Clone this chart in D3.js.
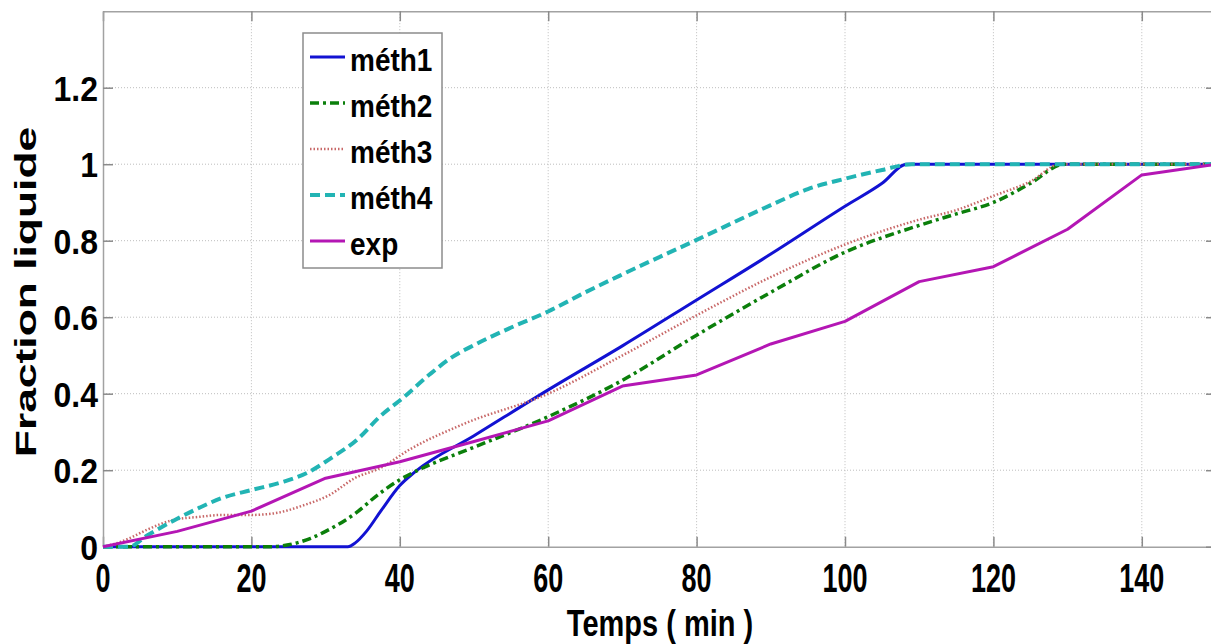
<!DOCTYPE html>
<html>
<head>
<meta charset="utf-8">
<script src="https://cdn.jsdelivr.net/npm/d3@7"></script>
<style>
  body { margin: 0; background: #fff; }
  svg { display: block; }
</style>
</head>
<body>
<svg id="chart" width="1211" height="644"></svg>
<script>
// Axis ticks and labels
const xTicks = [0, 20, 40, 60, 80, 100, 120, 140];
const xTickLabels = ["0", "20", "40", "60", "80", "100", "120", "140"];
const yTicks = [0, 0.2, 0.4, 0.6, 0.8, 1, 1.2];
const yTickLabels = ["0", "0.2", "0.4", "0.6", "0.8", "1", "1.2"];

// Series names (legend order = drawing order)
const seriesNames = ["méth1", "méth2", "méth3", "méth4", "exp"];

// méth1: liquid fraction vs time (min)
const meth1Time  = [0, 33, 34, 35.5, 37.5, 40, 42, 50, 60, 70, 80, 90, 100, 105, 108.3, 150];
const meth1Value = [0, 0, 0.01, 0.04, 0.095, 0.16, 0.195, 0.29, 0.41, 0.525, 0.645, 0.765, 0.89, 0.95, 1.0, 1.0];

// méth2
const meth2Time  = [0, 22.5, 25, 28, 30, 34, 37, 40, 43, 50, 60, 70, 80, 90, 100, 110, 115, 120, 125, 129.5, 150];
const meth2Value = [0, 0, 0.005, 0.022, 0.04, 0.087, 0.135, 0.175, 0.205, 0.26, 0.34, 0.435, 0.553, 0.665, 0.77, 0.84, 0.87, 0.9, 0.95, 1.0, 1.0];

// méth3
const meth3Time  = [0, 2, 4, 6, 9.5, 13, 16, 20, 23, 27, 30.5, 34, 37.3, 41.4, 48.5, 60, 70, 80, 90, 100, 110, 115, 120, 125, 129, 150];
const meth3Value = [0, 0.01, 0.026, 0.045, 0.07, 0.078, 0.083, 0.083, 0.087, 0.108, 0.135, 0.18, 0.205, 0.255, 0.32, 0.40, 0.50, 0.605, 0.705, 0.79, 0.855, 0.88, 0.917, 0.955, 1.0, 1.0];

// méth4
const meth4Time  = [0, 3.5, 6, 9.5, 13, 16, 20, 24, 27.4, 31, 34.2, 37.3, 40.5, 44, 47, 50, 55, 60, 65, 70, 80, 90, 95, 100, 105, 109, 150];
const meth4Value = [0, 0, 0.03, 0.068, 0.102, 0.127, 0.148, 0.168, 0.192, 0.235, 0.279, 0.34, 0.39, 0.45, 0.495, 0.527, 0.573, 0.615, 0.665, 0.712, 0.802, 0.893, 0.935, 0.962, 0.985, 1.0, 1.0];

// exp: measured points
const expTime  = [0, 10, 20, 30, 40, 50, 60, 70, 80, 90, 100, 110, 120, 130, 140, 150];
const expValue = [0, 0.04, 0.093, 0.179, 0.222, 0.275, 0.329, 0.42, 0.449, 0.53, 0.589, 0.693, 0.732, 0.83, 0.972, 1.0];

(function draw() {
  const series = [
    { name: seriesNames[0], t: meth1Time, v: meth1Value, color: "#1212d2", width: 3,   dash: null,      curve: d3.curveMonotoneX },
    { name: seriesNames[1], t: meth2Time, v: meth2Value, color: "#0b7f0b", width: 3.5, dash: "9,4,3,4", curve: d3.curveMonotoneX },
    { name: seriesNames[2], t: meth3Time, v: meth3Value, color: "#c86868", width: 2.5, dash: "1.5,2",   curve: d3.curveMonotoneX },
    { name: seriesNames[3], t: meth4Time, v: meth4Value, color: "#22b4b4", width: 4,   dash: "10,5",    curve: d3.curveMonotoneX },
    { name: seriesNames[4], t: expTime,   v: expValue,   color: "#b416b4", width: 3,   dash: null,      curve: d3.curveLinear }
  ];

  const svg = d3.select("#chart");
  const pLeft = 103, pRight = 1216, pTop = 11.2, pBottom = 546.7;

  const x = d3.scaleLinear().domain([0, 150]).range([pLeft, pRight]);
  const y = d3.scaleLinear().domain([0, 1.4]).range([pBottom, pTop]);

  const frameColor = "#a2a2a2";
  const gridColor = "#bdbdbd";

  svg.append("rect").attr("width", 1211).attr("height", 644).attr("fill", "#fff");

  // dotted grid
  const grid = svg.append("g");
  grid.selectAll("line.gx").data(xTicks.filter(d => d > 0)).join("line")
    .attr("class", "gx")
    .attr("x1", d => x(d)).attr("x2", d => x(d))
    .attr("y1", pTop).attr("y2", pBottom)
    .attr("stroke", gridColor).attr("stroke-width", 1).attr("stroke-dasharray", "1,2");
  grid.selectAll("line.gy").data(yTicks.filter(d => d > 0)).join("line")
    .attr("class", "gy")
    .attr("x1", pLeft).attr("x2", pRight)
    .attr("y1", d => y(d)).attr("y2", d => y(d))
    .attr("stroke", gridColor).attr("stroke-width", 1).attr("stroke-dasharray", "1,2");

  // axes with inward ticks on all four sides
  function styleAxis(g) {
    g.selectAll("path.domain").attr("stroke", frameColor).attr("stroke-width", 1.5);
    g.selectAll(".tick line").attr("stroke", "#8a8a8a").attr("stroke-width", 1.5);
    g.selectAll(".tick text").remove();
  }
  svg.append("g").attr("transform", `translate(0,${pBottom})`)
    .call(d3.axisBottom(x).tickValues(xTicks).tickSizeInner(-10).tickSizeOuter(0)).call(styleAxis);
  svg.append("g").attr("transform", `translate(0,${pTop})`)
    .call(d3.axisTop(x).tickValues(xTicks).tickSizeInner(-10).tickSizeOuter(0)).call(styleAxis);
  svg.append("g").attr("transform", `translate(${pLeft},0)`)
    .call(d3.axisLeft(y).tickValues(yTicks).tickSizeInner(-10).tickSizeOuter(0)).call(styleAxis);
  svg.append("g").attr("transform", `translate(${pRight},0)`)
    .call(d3.axisRight(y).tickValues(yTicks).tickSizeInner(-10).tickSizeOuter(0)).call(styleAxis);

  // series lines
  const plot = svg.append("g");
  series.forEach(s => {
    const pts = s.t.map((t, i) => [t, s.v[i]]);
    const line = d3.line().x(d => x(d[0])).y(d => y(d[1])).curve(s.curve);
    plot.append("path")
      .attr("d", line(pts))
      .attr("fill", "none")
      .attr("stroke", s.color)
      .attr("stroke-width", s.width)
      .attr("stroke-dasharray", s.dash)
      .attr("stroke-linejoin", "round");
  });

  // text helper: bold sans with a vertical stretch
  const FONT = "'Liberation Sans', Arial, sans-serif";
  function label(g, str, px, py, size, sy, anchor, rotate) {
    const rot = rotate ? ` rotate(${rotate})` : "";
    return g.append("text")
      .attr("transform", `translate(${px},${py}) scale(1,${sy})${rot}`)
      .attr("text-anchor", anchor)
      .attr("font-family", FONT)
      .attr("font-weight", "bold")
      .attr("font-size", size)
      .attr("fill", "#000")
      .text(str);
  }

  const labels = svg.append("g");
  // x tick labels
  const xs = 27, xsy = 1.5;
  xTicks.forEach((t, i) => label(labels, xTickLabels[i], x(t), 592, xs, xsy, "middle"));
  // y tick labels
  const ys = 32, ysy = 1.12;
  yTicks.forEach((t, i) => label(labels, yTickLabels[i], 98, y(t) + 0.716 * ys * ysy / 2, ys, ysy, "end"));
  // axis titles
  label(labels, "Temps ( min )", 660, 636, 29, 1.3, "middle");
  label(labels, "Fraction liquide", 36, 292, 30, 1.48, "middle", -90);

  // legend
  const legend = svg.append("g");
  legend.append("rect").attr("x", 303).attr("y", 33).attr("width", 139).attr("height", 235)
    .attr("fill", "#fff").attr("stroke", "#8c8c8c").attr("stroke-width", 1.5);
  series.forEach((s, i) => {
    const ly = 57 + i * 46;
    legend.append("line").attr("x1", 310).attr("x2", 345).attr("y1", ly).attr("y2", ly)
      .attr("stroke", s.color).attr("stroke-width", s.width).attr("stroke-dasharray", s.dash);
    label(legend, s.name, 350, ly + 14, 28, 1.15, "start");
  });
})();
</script>
</body>
</html>
